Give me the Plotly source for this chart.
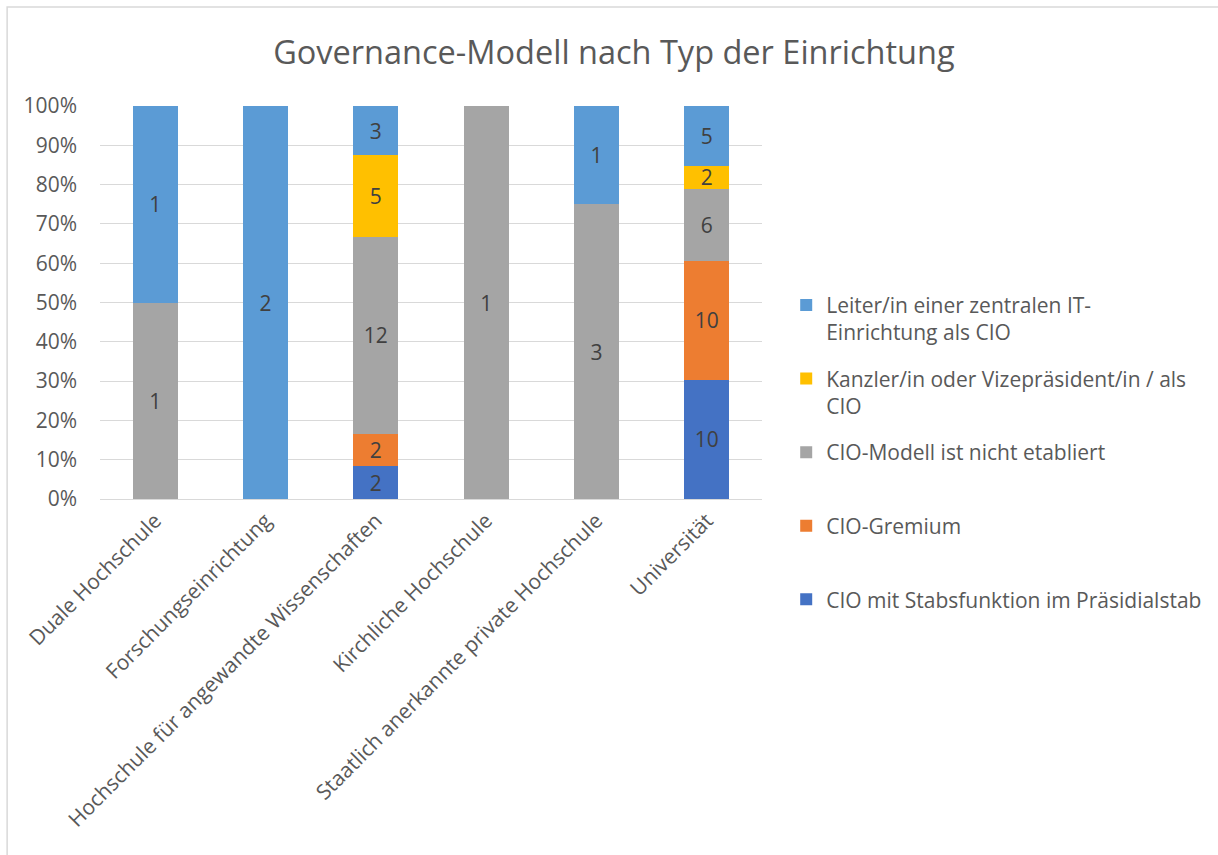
import plotly.graph_objects as go

categories = [
    "Duale Hochschule",
    "Forschungseinrichtung",
    "Hochschule für angewandte Wissenschaften",
    "Kirchliche Hochschule",
    "Staatlich anerkannte private Hochschule",
    "Universität",
]

# counts per series, bottom to top in the stack
stabsfunktion = [0, 0, 2, 0, 0, 10]
gremium = [0, 0, 2, 0, 0, 10]
nicht_etabliert = [1, 0, 12, 1, 3, 6]
kanzler = [0, 0, 5, 0, 0, 2]
leiter_it = [1, 2, 3, 0, 1, 5]

series = [
    ("CIO mit Stabsfunktion im Präsidialstab", stabsfunktion, "#4472C4"),
    ("CIO-Gremium", gremium, "#ED7D31"),
    ("CIO-Modell ist nicht etabliert", nicht_etabliert, "#A5A5A5"),
    ("Kanzler/in oder Vizepräsident/in / als<br>CIO", kanzler, "#FFC000"),
    ("Leiter/in einer zentralen IT-<br>Einrichtung als CIO", leiter_it, "#5B9BD5"),
]

FONT = "Segoe UI, Open Sans, sans-serif"
TXT = "#595959"
FS = 21

fig = go.Figure()
for i, (name, vals, color) in enumerate(series):
    # pad single-line names so every legend entry takes two lines
    label = name if "<br>" in name else name + "<br>\u00a0"
    fig.add_trace(go.Bar(
        x=categories, y=vals, name=label, legendgroup=name,
        legendrank=1000 - i,
        marker=dict(color=color, line=dict(width=0)),
        text=[str(v) if v else "" for v in vals],
        textposition="inside", insidetextanchor="middle",
        textangle=0, constraintext="none",
        textfont=dict(family=FONT, size=FS, color="#404040"),
    ))

fig.update_layout(
    barmode="stack", barnorm="percent", bargap=0.59,
    width=1218, height=855,
    margin=dict(l=100, r=455, t=106, b=356),
    paper_bgcolor="white", plot_bgcolor="white",
    font=dict(family=FONT, size=FS, color=TXT),
    title=dict(text="Governance-Modell nach Typ der Einrichtung",
               x=0.504, xanchor="center", y=0.939, yanchor="middle",
               font=dict(size=32.5, color=TXT)),
    legend=dict(x=1.035, xanchor="left", y=0.545, yanchor="top",
                traceorder="grouped", valign="top",
                tracegroupgap=16,
                font=dict(size=FS, color=TXT), itemwidth=30),
    showlegend=True,
    shapes=[dict(type="rect", xref="paper", yref="paper",
                 x0=-0.1403, x1=1.8, y0=-1.0, y1=1.2519,
                 line=dict(color="#d9d9d9", width=1.5), layer="below")],
)
fig.update_yaxes(range=[0, 100], dtick=10, ticksuffix="%",
                 gridcolor="#d9d9d9", gridwidth=1, zeroline=False,
                 showline=False, ticks="", ticklabelstandoff=22,
                 tickfont=dict(size=FS, color=TXT))
fig.update_xaxes(tickangle=-45, showline=True, linecolor="#d9d9d9",
                 linewidth=1, ticks="", tickfont=dict(size=FS, color=TXT))

fig.write_html("out.html", config={"displayModeBar": False},
               post_script="document.body.style.margin='0';")
